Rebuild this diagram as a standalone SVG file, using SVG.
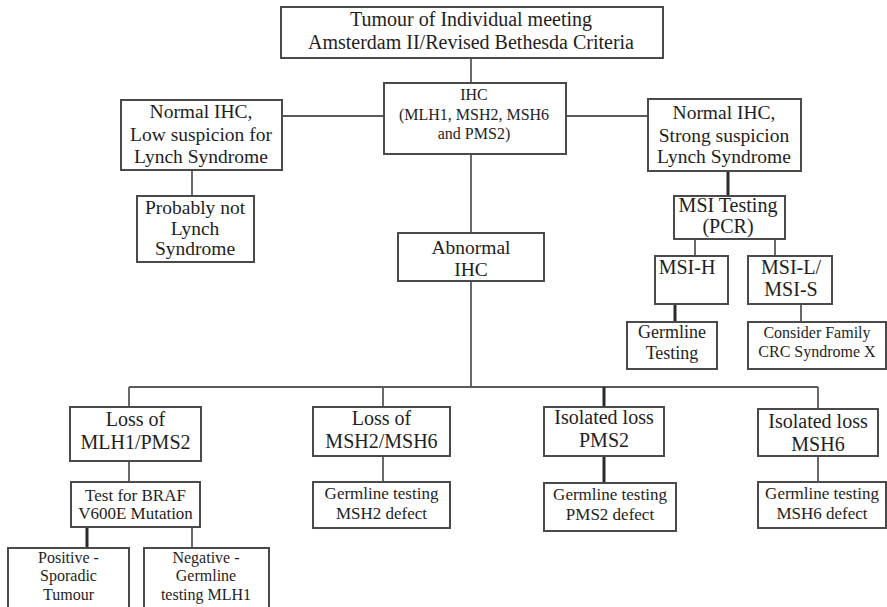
<svg xmlns="http://www.w3.org/2000/svg" width="887" height="607" viewBox="0 0 887 607">
<style>
.box{fill:#fff;stroke:#4a4a4a;stroke-width:2}
.ln{stroke:#5a5a5a;stroke-width:1.8;fill:none}
.tk{stroke:#2a2a2a;stroke-width:3;fill:none}
text{font-family:"Liberation Serif","Times New Roman",serif;fill:#1e1e1e;text-anchor:middle}
.f20{font-size:20px}.f19{font-size:19.5px}.f18{font-size:18px}.f17{font-size:17px}.f16{font-size:16px}
</style>
<rect width="887" height="607" fill="#fff"/>
<g id="connectors">
<path class="ln" d="M471 58V83M282 116H384M566 116H648M192 170V196M471 154V233M695 239V256M775 239V256M801 304V322M471 281V387M129 387H818M129 387V407M383 387V407M818 387V409M129 461V482M192 527V548M383 456V482M818 456V482"/>
<path class="tk" d="M728 171V196M675 304V322M604 387V407M87 527V548M604 456V483"/>
</g>
<g id="n_top"><rect class="box" x="281" y="7" width="382" height="51"/><text class="f20" x="471" y="26">Tumour of Individual meeting</text><text class="f20" x="471" y="49">Amsterdam II/Revised Bethesda Criteria</text></g>
<g id="n_ihc"><rect class="box" x="384" y="83" width="182" height="71"/><text class="f16" x="474" y="100">IHC</text><text class="f16" x="474" y="120">(MLH1, MSH2, MSH6</text><text class="f16" x="474" y="139">and PMS2)</text></g>
<g id="n_low"><rect class="box" x="121" y="100" width="161" height="70"/><text class="f19" x="201" y="118">Normal IHC,</text><text class="f19" x="201" y="141">Low suspicion for</text><text class="f19" x="201" y="163">Lynch Syndrome</text></g>
<g id="n_strong"><rect class="box" x="648" y="99" width="153" height="72"/><text class="f19" x="724" y="119">Normal IHC,</text><text class="f19" x="724" y="142">Strong suspicion</text><text class="f19" x="724" y="163">Lynch Syndrome</text></g>
<g id="n_probably"><rect class="box" x="137" y="196" width="117" height="66"/><text class="f19" x="195" y="214">Probably not</text><text class="f19" x="195" y="235">Lynch</text><text class="f19" x="195" y="255">Syndrome</text></g>
<g id="n_abnormal"><rect class="box" x="398" y="233" width="146" height="48"/><text class="f19" x="471" y="254">Abnormal</text><text class="f19" x="471" y="276">IHC</text></g>
<g id="n_msi"><rect class="box" x="674" y="196" width="111" height="43"/><text class="f20" x="728" y="212">MSI Testing</text><text class="f20" x="728" y="233">(PCR)</text></g>
<g id="n_msih"><rect class="box" x="655" y="256" width="73" height="48"/><text class="f20" x="687" y="274">MSI-H</text></g>
<g id="n_msil"><rect class="box" x="748" y="256" width="84" height="48"/><text class="f20" x="791" y="274">MSI-L/</text><text class="f20" x="791" y="296">MSI-S</text></g>
<g id="n_germtest"><rect class="box" x="627" y="322" width="90" height="47"/><text class="f18" x="672" y="338">Germline</text><text class="f18" x="672" y="359">Testing</text></g>
<g id="n_consider"><rect class="box" x="748" y="322" width="138" height="47"/><text class="f16" x="817" y="338">Consider Family</text><text class="f16" x="817" y="357">CRC Syndrome X</text></g>
<g id="n_mlh1"><rect class="box" x="70" y="407" width="131" height="54"/><text class="f20" x="135.5" y="426">Loss of</text><text class="f20" x="135.5" y="449">MLH1/PMS2</text></g>
<g id="n_braf"><rect class="box" x="71" y="482" width="129" height="45"/><text class="f17" x="135.5" y="501">Test for BRAF</text><text class="f17" x="135.5" y="519">V600E Mutation</text></g>
<g id="n_positive"><rect class="box" x="8" y="548" width="121" height="60"/><text class="f16" x="68.5" y="563">Positive -</text><text class="f16" x="68.5" y="581">Sporadic</text><text class="f16" x="68.5" y="600">Tumour</text></g>
<g id="n_negative"><rect class="box" x="144" y="548" width="125" height="60"/><text class="f16" x="206" y="563">Negative -</text><text class="f16" x="206" y="581">Germline</text><text class="f16" x="206" y="600">testing MLH1</text></g>
<g id="n_msh2"><rect class="box" x="313" y="407" width="137" height="49"/><text class="f20" x="381.5" y="425">Loss of</text><text class="f20" x="381.5" y="448">MSH2/MSH6</text></g>
<g id="n_germ_msh2"><rect class="box" x="313" y="482" width="137" height="46"/><text class="f17" x="381.5" y="499">Germline testing</text><text class="f17" x="381.5" y="519">MSH2 defect</text></g>
<g id="n_pms2"><rect class="box" x="544" y="407" width="120" height="49"/><text class="f20" x="604" y="424">Isolated loss</text><text class="f20" x="604" y="447">PMS2</text></g>
<g id="n_germ_pms2"><rect class="box" x="544" y="483" width="132" height="48"/><text class="f17" x="610" y="500">Germline testing</text><text class="f17" x="610" y="520">PMS2 defect</text></g>
<g id="n_msh6"><rect class="box" x="758" y="409" width="120" height="47"/><text class="f20" x="818" y="428">Isolated loss</text><text class="f20" x="818" y="451">MSH6</text></g>
<g id="n_germ_msh6"><rect class="box" x="758" y="482" width="128" height="46"/><text class="f17" x="822" y="499">Germline testing</text><text class="f17" x="822" y="519">MSH6 defect</text></g>
</svg>
